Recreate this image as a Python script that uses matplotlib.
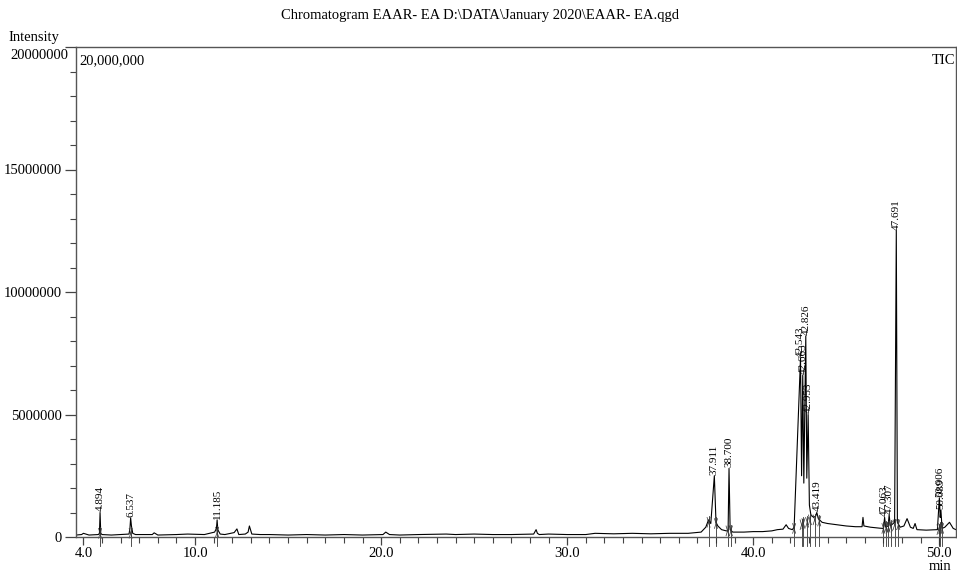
import matplotlib
matplotlib.use("Agg")
import matplotlib.pyplot as plt
from matplotlib.ticker import MultipleLocator, FixedLocator

plt.rcParams['font.family'] = ['Liberation Serif', 'DejaVu Serif']

# ---- data (intensity in counts) ----
trace_t = [3.6, 3.9, 4.0, 4.3, 4.8, 4.86, 4.894, 4.93, 5.0, 5.5, 6.0, 6.45, 6.5, 6.537, 6.58, 6.65,
           6.8, 7.2, 7.7, 7.8, 8.0, 9.0, 9.6, 10.5, 11.05, 11.15, 11.185, 11.22, 11.35, 11.6,
           11.9, 12.1, 12.25, 12.35, 12.7, 12.85, 12.92, 13.05, 13.5, 14.0, 15.0, 16.0, 17.0,
           18.0, 19.0, 20.1, 20.25, 20.45, 21.0, 22.0, 23.5, 24.0, 25.0, 26.0, 27.0, 28.2,
           28.33, 28.4, 28.5, 29.0, 30.0, 31.0, 31.5, 32.5, 33.5, 34.5, 35.5, 36.5, 37.2,
           37.45, 37.6, 37.72, 37.911, 38.0, 38.1, 38.3, 38.55, 38.65, 38.700, 38.76, 38.9,
           39.5, 40.0, 40.5, 41.0, 41.3, 41.6, 41.77, 41.9, 42.1, 42.2, 42.543, 42.6, 42.663,
           42.72, 42.826, 42.88, 42.953, 43.02, 43.1, 43.25, 43.35, 43.419, 43.5, 43.7, 44.0,
           44.5, 45.0, 45.5, 45.85, 45.9, 45.95, 46.3, 46.8, 47.0, 47.063, 47.12, 47.25,
           47.307, 47.37, 47.6, 47.691, 47.75, 47.9, 48.1, 48.27, 48.45, 48.6, 48.7, 48.8,
           49.3, 49.9, 50.006, 50.05, 50.089, 50.15, 50.3, 50.55, 50.75, 50.9]
trace_y = [0.08e6, 0.1e6, 0.15e6, 0.08e6, 0.1e6, 0.15e6, 1.0e6, 0.15e6, 0.1e6, 0.08e6, 0.1e6, 0.12e6, 0.35e6, 0.78e6, 0.45e6, 0.15e6,
           0.1e6, 0.1e6, 0.1e6, 0.17e6, 0.08e6, 0.1e6, 0.12e6, 0.1e6, 0.2e6, 0.35e6, 0.7e6, 0.3e6, 0.12e6, 0.1e6,
           0.15e6, 0.18e6, 0.33e6, 0.1e6, 0.12e6, 0.2e6, 0.45e6, 0.12e6, 0.1e6, 0.1e6, 0.08e6, 0.1e6, 0.08e6,
           0.1e6, 0.08e6, 0.1e6, 0.2e6, 0.1e6, 0.08e6, 0.1e6, 0.12e6, 0.1e6, 0.12e6, 0.1e6, 0.1e6, 0.12e6,
           0.3e6, 0.15e6, 0.1e6, 0.12e6, 0.1e6, 0.1e6, 0.15e6, 0.13e6, 0.15e6, 0.13e6, 0.15e6, 0.15e6, 0.2e6,
           0.4e6, 0.7e6, 0.55e6, 2.5e6, 0.6e6, 0.45e6, 0.3e6, 0.25e6, 0.25e6, 2.8e6, 0.3e6, 0.2e6,
           0.2e6, 0.22e6, 0.22e6, 0.25e6, 0.3e6, 0.32e6, 0.5e6, 0.35e6, 0.3e6, 0.4e6, 7.3e6, 2.5e6, 6.6e6,
           2.2e6, 8.2e6, 2.4e6, 5.0e6, 1.3e6, 0.9e6, 0.8e6, 0.85e6, 1.0e6, 0.75e6, 0.6e6, 0.55e6,
           0.5e6, 0.45e6, 0.42e6, 0.42e6, 0.8e6, 0.45e6, 0.4e6, 0.36e6, 0.35e6, 0.8e6, 0.4e6, 0.45e6,
           0.9e6, 0.45e6, 0.6e6, 12.5e6, 0.6e6, 0.4e6, 0.45e6, 0.75e6, 0.4e6, 0.35e6, 0.55e6, 0.3e6,
           0.28e6, 0.3e6, 1.6e6, 0.8e6, 1.1e6, 0.35e6, 0.4e6, 0.6e6, 0.35e6, 0.3e6]

peak_rt = [4.894, 6.537, 11.185, 37.911, 38.700, 42.543, 42.663, 42.826, 42.953,
           43.419, 47.063, 47.307, 47.691, 50.006, 50.089]
peak_labels = ["4.894", "6.537", "11.185", "37.911", "38.700", "42.543", "42.663", "42.826",
               "42.953", "43.419", "47.063", "47.307", "47.691", "50.006", "50.089"]
peak_top = [1.0e6, 0.78e6, 0.7e6, 2.5e6, 2.8e6, 7.3e6, 6.6e6, 8.2e6, 5.0e6,
            1.0e6, 0.8e6, 0.9e6, 12.5e6, 1.6e6, 1.1e6]

# integration marks (time, level)
mark_t = [4.894, 6.537, 11.185, 37.6, 38.0, 38.62, 38.8, 42.2, 42.6, 42.7, 42.9, 43.05, 43.3,
          43.55, 47.0, 47.15, 47.27, 47.4, 47.6, 47.8, 49.96, 50.05, 50.15]
mark_y = [0.15e6, 0.15e6, 0.2e6, 0.6e6, 0.55e6, 0.25e6, 0.25e6, 0.35e6, 0.5e6, 0.55e6, 0.6e6,
          0.7e6, 0.7e6, 0.65e6, 0.35e6, 0.4e6, 0.4e6, 0.45e6, 0.5e6, 0.5e6, 0.3e6, 0.35e6, 0.35e6]

y_ticks = [0, 5000000, 10000000, 15000000, 20000000]
y_tick_labels = ["0", "5000000", "10000000", "15000000", "20000000"]
x_ticks = [4.0, 10.0, 20.0, 30.0, 40.0, 50.0]
x_tick_labels = ["4.0", "10.0", "20.0", "30.0", "40.0", "50.0"]

title = r"Chromatogram EAAR- EA D:\DATA\January 2020\EAAR- EA.qgd"

# ---- figure ----
fig = plt.figure(figsize=(9.57, 5.73), dpi=100)
ax = fig.add_axes([76 / 957, 1 - 537 / 573, 880 / 957, 490 / 573])

ax.plot(trace_t, trace_y, color='black', lw=0.8)

for t, lab, h in zip(peak_rt, peak_labels, peak_top):
    ax.text(t, h + 0.05e6, lab, rotation=90, ha='center', va='bottom', fontsize=8)

for t, yv in zip(mark_t, mark_y):
    ax.plot([t, t], [-0.35e6, yv + 0.25e6], color='#333333', lw=0.6, clip_on=False)
    ax.plot([t - 0.08, t + 0.08], [yv - 0.2e6, yv + 0.2e6], color='#333333', lw=0.5, clip_on=False)
    ax.plot([t - 0.08, t + 0.08], [yv + 0.2e6, yv - 0.2e6], color='#333333', lw=0.5, clip_on=False)

ax.set_xlim(3.6, 50.9)
ax.set_ylim(0, 20000000)

ax.yaxis.set_major_locator(FixedLocator(y_ticks))
# the top label sits a little below its tick, as in the reference
ax.set_yticklabels(y_tick_labels[:-1] + [""])
ax.text(-0.009, (20000000 - 0.33e6), y_tick_labels[-1], transform=ax.get_yaxis_transform(),
        ha='right', va='center', fontsize=10.5)
ax.yaxis.set_minor_locator(MultipleLocator(1000000))
ax.xaxis.set_major_locator(FixedLocator(x_ticks))
ax.set_xticklabels(x_tick_labels)
ax.xaxis.set_minor_locator(MultipleLocator(1.0))

ax.tick_params(axis='both', which='major', direction='out', length=8, width=0.9,
               colors='#444444', labelcolor='black', labelsize=10.5, pad=2)
ax.tick_params(axis='x', which='major', length=6, pad=1)
ax.tick_params(axis='both', which='minor', direction='out', length=4, width=0.8, colors='#444444')

for s in ax.spines.values():
    s.set_color('#555555')
    s.set_linewidth(1.0)

fig.text(480 / 957, 1 - 15 / 573, title, ha='center', va='center', fontsize=10.5)
fig.text(8 / 957, 1 - 38 / 573, "Intensity", ha='left', va='center', fontsize=10.5)
ax.text(0.004, 0.985, "20,000,000", transform=ax.transAxes, ha='left', va='top', fontsize=10.5)
ax.text(0.999, 0.985, "TIC", transform=ax.transAxes, ha='right', va='top', fontsize=10.5)
fig.text(940 / 957, 1 - 566 / 573, "min", ha='center', va='center', fontsize=10.5)

fig.savefig("out.png", dpi=100)
